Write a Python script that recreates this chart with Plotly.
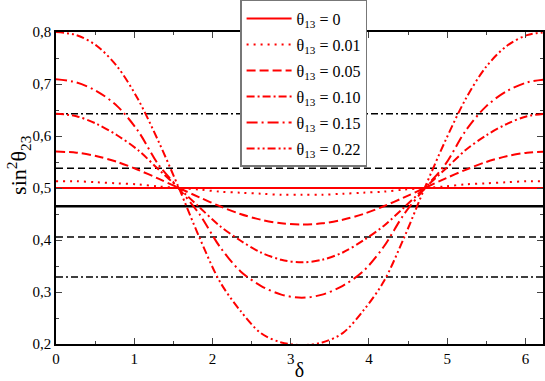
import numpy as np
import plotly.graph_objects as go

# delta grid in degrees (0..360, step 15)
delta_deg = list(range(0, 361, 15))
delta = list(np.radians(delta_deg))

theta_labels = ["0", "0.01", "0.05", "0.10", "0.15", "0.22"]

s23_t000 = [0.500] * 25
s23_t001 = [0.513, 0.513, 0.511, 0.509, 0.507, 0.503, 0.500, 0.497, 0.493, 0.491, 0.489, 0.487, 0.487,
            0.487, 0.489, 0.491, 0.493, 0.497, 0.500, 0.503, 0.507, 0.509, 0.511, 0.513, 0.513]
s23_t005 = [0.570, 0.568, 0.561, 0.550, 0.535, 0.518, 0.500, 0.482, 0.465, 0.450, 0.439, 0.432, 0.430,
            0.432, 0.439, 0.450, 0.465, 0.482, 0.500, 0.518, 0.535, 0.550, 0.561, 0.568, 0.570]
s23_t010 = [0.643, 0.638, 0.623, 0.601, 0.573, 0.536, 0.500, 0.463, 0.427, 0.399, 0.376, 0.362, 0.357,
            0.362, 0.376, 0.399, 0.427, 0.463, 0.500, 0.536, 0.573, 0.601, 0.623, 0.638, 0.643]
s23_t015 = [0.709, 0.703, 0.686, 0.657, 0.610, 0.545, 0.499, 0.450, 0.387, 0.340, 0.312, 0.295, 0.289,
            0.295, 0.312, 0.340, 0.387, 0.450, 0.499, 0.545, 0.610, 0.657, 0.686, 0.703, 0.709]
s23_t022 = [0.800, 0.794, 0.773, 0.733, 0.671, 0.590, 0.500, 0.405, 0.320, 0.264, 0.221, 0.203, 0.198,
            0.203, 0.221, 0.264, 0.320, 0.405, 0.500, 0.590, 0.671, 0.733, 0.773, 0.794, 0.800]

series = [s23_t000, s23_t001, s23_t005, s23_t010, s23_t015, s23_t022]

# reference horizontal levels (best fit, 1 sigma, 3 sigma)
best_fit = 0.465
one_sigma = [0.406, 0.538]
three_sigma = [0.329, 0.643]

dashes = ["solid", "2px,5px", "9px,4px", "8px,3px,2px,3px", "11px,4px,2px,4px", "8px,3px,2px,3px,2px,3px"]

fig = go.Figure()
xends = [delta[0], delta[-1]]

fig.add_trace(go.Scatter(x=xends, y=[best_fit] * 2, mode="lines",
                         line=dict(color="black", width=2.5), showlegend=False, hoverinfo="skip"))
for v in one_sigma:
    fig.add_trace(go.Scatter(x=xends, y=[v] * 2, mode="lines",
                             line=dict(color="black", width=1.5, dash="7px,4px"),
                             showlegend=False, hoverinfo="skip"))
for v in three_sigma:
    fig.add_trace(go.Scatter(x=xends, y=[v] * 2, mode="lines",
                             line=dict(color="black", width=1.5, dash="7px,3px,2px,3px"),
                             showlegend=False, hoverinfo="skip"))

for i, (lab, ys, d) in enumerate(zip(theta_labels, series, dashes)):
    fig.add_trace(go.Scatter(x=delta, y=ys, mode="lines", name="θ<sub>13</sub> = " + lab,
                             legendgroup="g%d" % i,
                             line=dict(color="#ff0000", width=2, dash=d, shape="spline", smoothing=0.9)))

font = "Liberation Serif"
axis_common = dict(showline=True, linecolor="black", linewidth=1.5, mirror="ticks",
                   ticks="inside", ticklen=6, tickcolor="#444", tickwidth=1,
                   showgrid=False, zeroline=False,
                   tickfont=dict(family=font, size=15, color="black"))

fig.update_layout(
    width=545, height=381,
    margin=dict(l=56, r=2, t=32, b=37, autoexpand=False),
    paper_bgcolor="white", plot_bgcolor="white",
    separators=",.",
    font=dict(family=font, color="black"),
    xaxis=dict(range=[0, 6.225], dtick=1, tick0=0,
               minor=dict(dtick=0.5, ticks="inside", ticklen=3.5, tickcolor="#444", showgrid=False),
               title=dict(text="δ", font=dict(family=font, size=20), standoff=0),
               **axis_common),
    yaxis=dict(range=[0.2, 0.8], dtick=0.1, tick0=0.2, tickformat=".1f",
               minor=dict(dtick=0.05, ticks="inside", ticklen=3.5, tickcolor="#444", showgrid=False),
               **axis_common),
    legend=dict(x=0.378, y=1.1026, xanchor="left", yanchor="top",
                bgcolor="white", bordercolor="#777", borderwidth=1.5,
                font=dict(family=font, size=16), itemwidth=45, tracegroupgap=2.2),
    annotations=[dict(text="sin<sup>2</sup>θ<sub>23</sub>", textangle=-90,
                      xref="paper", yref="paper", x=-0.076, y=0.574,
                      xanchor="center", yanchor="middle", showarrow=False,
                      font=dict(family=font, size=22, color="black"))],
)
fig.update_xaxes(automargin=False)
fig.update_yaxes(automargin=False)

fig.write_html("out.html", config={"displayModeBar": False},
               post_script="document.body.style.margin='0';")
